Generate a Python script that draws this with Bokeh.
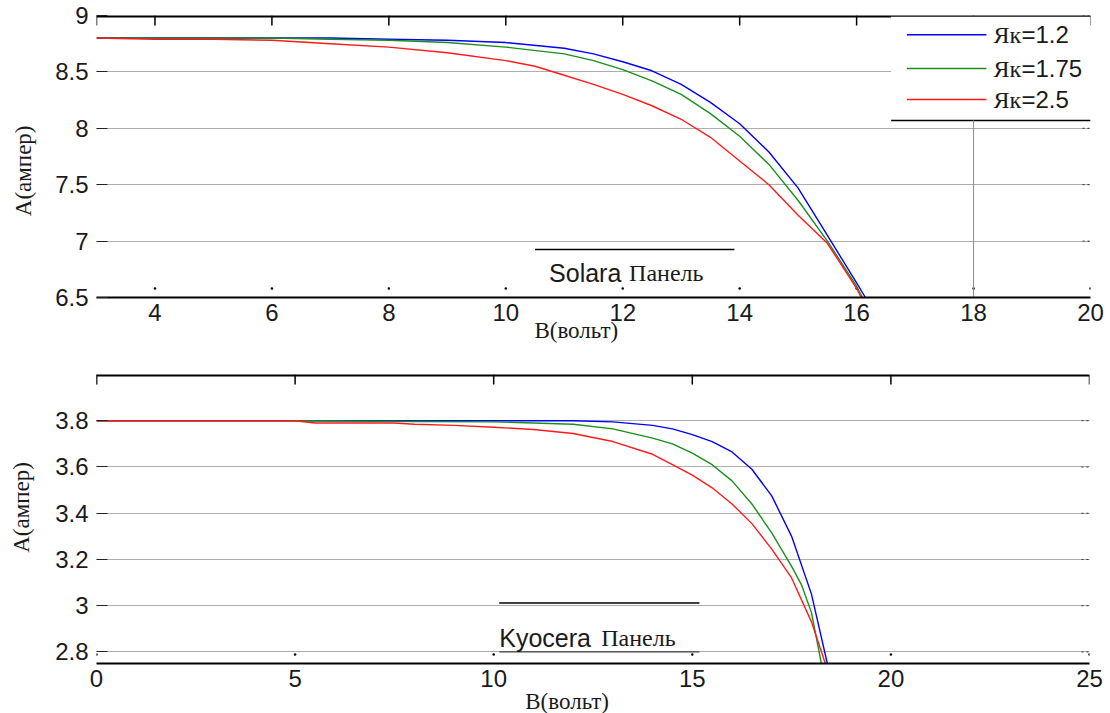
import math
from bokeh.plotting import figure
from bokeh.models import Range1d, FixedTicker, Label
from bokeh.layouts import column
from bokeh.embed import file_html
from bokeh.resources import INLINE

# ---- Solara panel: I-V curves for three series resistances ----
solara_v_12 = [3, 4, 5, 6, 7, 8, 9, 10, 11, 11.5, 12, 12.5, 13, 13.5, 14, 14.5, 15, 15.5, 16, 16.15]
solara_i_12 = [8.80, 8.80, 8.80, 8.80, 8.80, 8.79, 8.78, 8.76, 8.71, 8.66, 8.59, 8.51, 8.39, 8.23, 8.04, 7.79, 7.47, 7.05, 6.63, 6.50]
solara_v_175 = [3, 4, 5, 6, 7, 8, 9, 10, 11, 11.5, 12, 12.5, 13, 13.5, 14, 14.5, 15, 15.5, 16, 16.1]
solara_i_175 = [8.80, 8.80, 8.80, 8.80, 8.79, 8.78, 8.76, 8.72, 8.66, 8.60, 8.52, 8.42, 8.30, 8.13, 7.93, 7.68, 7.36, 7.00, 6.60, 6.50]
solara_v_25 = [3, 4, 5, 6, 7, 8, 9, 10, 10.5, 11, 11.5, 12, 12.5, 13, 13.5, 14, 14.5, 15, 15.5, 16, 16.08]
solara_i_25 = [8.80, 8.79, 8.79, 8.78, 8.75, 8.72, 8.67, 8.60, 8.55, 8.47, 8.39, 8.30, 8.20, 8.08, 7.92, 7.71, 7.50, 7.23, 6.98, 6.58, 6.50]

# ---- Kyocera panel ----
kyocera_v_12 = [0, 5, 10, 12, 13, 14, 14.5, 15, 15.5, 16, 16.5, 17, 17.5, 18, 18.4]
kyocera_i_12 = [3.80, 3.80, 3.80, 3.80, 3.795, 3.78, 3.765, 3.74, 3.71, 3.665, 3.59, 3.475, 3.30, 3.05, 2.75]
kyocera_v_175 = [0, 5, 8, 10, 11, 12, 13, 14, 14.5, 15, 15.5, 16, 16.5, 17, 17.5, 17.75, 18, 18.25]
kyocera_i_175 = [3.80, 3.80, 3.797, 3.795, 3.79, 3.785, 3.765, 3.725, 3.70, 3.66, 3.61, 3.54, 3.44, 3.315, 3.17, 3.09, 2.97, 2.75]
kyocera_v_25 = [0, 5, 5.5, 7.5, 8, 9, 10, 11, 12, 13, 14, 14.5, 15, 15.5, 16, 16.5, 17, 17.5, 18, 18.35]
kyocera_i_25 = [3.80, 3.80, 3.79, 3.79, 3.785, 3.78, 3.772, 3.762, 3.745, 3.71, 3.655, 3.61, 3.565, 3.51, 3.44, 3.355, 3.245, 3.12, 2.93, 2.75]

series_names = ["Як=1.2", "Як=1.75", "Як=2.5"]
series_colors = ["#0000ff", "#1a8f1a", "#ff1a1a"]

solara_xticks = [4, 6, 8, 10, 12, 14, 16, 18, 20]
solara_yticks = [6.5, 7, 7.5, 8, 8.5, 9]
solara_ylabels = ["6.5", "7", "7.5", "8", "8.5", "9"]
kyocera_xticks = [0, 5, 10, 15, 20, 25]
kyocera_yticks = [2.8, 3, 3.2, 3.4, 3.6, 3.8]
kyocera_ylabels = ["2.8", "3", "3.2", "3.4", "3.6", "3.8"]

SANS = "Liberation Sans"
SERIF = "Liberation Serif"
NB = "\u00a0"


def make_panel(xr, yr, xticks, yticks, ylabels, fw, fh, bl, br, bt, bb,
               xlabel, ylabel, xl_standoff, yl_standoff):
    p = figure(frame_width=fw, frame_height=fh, x_range=Range1d(*xr), y_range=Range1d(*yr),
               output_backend="svg", toolbar_location=None,
               min_border_left=bl, min_border_right=br, min_border_top=bt, min_border_bottom=bb,
               outline_line_color=None, background_fill_color="white", border_fill_color="white")
    xa = p.below[0]
    ya = p.left[0]
    xa.ticker = FixedTicker(ticks=xticks)
    ya.ticker = FixedTicker(ticks=yticks)
    ya.major_label_overrides = {t: s for t, s in zip(yticks, ylabels)}
    for ax in (xa, ya):
        ax.major_label_text_font = SANS
        ax.major_label_text_font_size = "24px"
        ax.major_label_text_color = "#1a1a1a"
        ax.major_tick_out = 0
        ax.minor_tick_line_color = None
        ax.axis_label_text_font = SERIF
        ax.axis_label_text_font_size = "23px"
        ax.axis_label_text_font_style = "normal"
        ax.axis_label_text_color = "#1a1a1a"
    xa.axis_label = xlabel
    ya.axis_label = ylabel
    xa.axis_label_standoff = xl_standoff
    ya.axis_label_standoff = yl_standoff
    xa.axis_line_width = 2
    xa.axis_line_color = "black"
    xa.major_tick_in = 0
    xa.major_tick_line_color = None
    xa.major_label_standoff = 6
    ya.axis_line_color = None
    ya.major_tick_in = 11
    ya.major_tick_line_color = "#222222"
    ya.major_label_standoff = 8

    p.xgrid.grid_line_color = None
    p.ygrid.ticker = FixedTicker(ticks=yticks)
    p.ygrid.grid_line_color = "#5a5a5a"
    p.ygrid.grid_line_dash = "1 1"
    p.ygrid.grid_line_width = 1

    # pixel sizes expressed in data units of this frame
    px_y = (yr[1] - yr[0]) / fh

    # top rule with hanging tick marks
    top_ticks = [xr[0]] + list(xticks)
    p.segment(x0=[xr[0]], y0=[yr[1]], x1=[xr[1]], y1=[yr[1]], line_color="black", line_width=4)
    p.rect(x=top_ticks, y=[yr[1] - 5 * px_y] * len(top_ticks), width=1.5, height=10,
           width_units="screen", height_units="screen", fill_color="black", line_color=None)
    # small marks along the right edge and dots above the bottom axis
    p.scatter(x=[xr[1]] * len(yticks), y=yticks, marker="dash", size=16,
              line_color="#333333", line_width=1, line_dash="2 3")
    p.scatter(x=list(xticks), y=[yr[0] + 9 * px_y] * len(xticks), marker="circle", size=2.5,
              fill_color="black", line_color=None)
    return p


def add_text(p, x, y, text, font, size, **kw):
    p.add_layout(Label(x=x, y=y, text=text, text_font=font, text_font_size=size,
                       text_color="#1a1a1a", **kw))


# ---------------- Top panel ----------------
top = make_panel((3, 20), (6.5, 9), solara_xticks, solara_yticks, solara_ylabels,
                 994, 282, 96, 20, 15, 48,
                 "B(вольт)" + NB * 6, "A(ампер)" + NB * 5, -6, 16)

# legend box (white background with bottom rule)
top.quad(left=16.59, right=20, bottom=8.07, top=8.99, fill_color="white", line_color=None)
top.segment(x0=[16.59], y0=[8.07], x1=[20], y1=[8.07], line_color="black", line_width=1.5)
top.segment(x0=[18], y0=[8.07], x1=[18], y1=[6.5], line_color="#8c8c8c", line_width=1)

for v, i, c in zip([solara_v_12, solara_v_175, solara_v_25],
                   [solara_i_12, solara_i_175, solara_i_25], series_colors):
    top.line(v, i, line_color=c, line_width=1.4)

legend_y = [8.83, 8.53, 8.255]
for name, c, ly in zip(series_names, series_colors, legend_y):
    top.segment(x0=[16.86], y0=[ly], x1=[18.22], y1=[ly], line_color=c, line_width=1.4)
    add_text(top, 18.34, ly, name[:2], SERIF, "24px", text_baseline="middle")
    add_text(top, 18.34, ly, name[2:], SANS, "24px", text_baseline="middle", x_offset=28)

# panel caption
top.segment(x0=[10.5], y0=[6.925], x1=[13.91], y1=[6.925], line_color="black", line_width=1.5)
add_text(top, 10.74, 6.713, "Solara", SANS, "25px", text_baseline="middle")
add_text(top, 10.74, 6.713, "Панель", SERIF, "24px", text_baseline="middle", x_offset=80)

# ---------------- Bottom panel ----------------
bot = make_panel((0, 25), (2.75, 4.0), kyocera_xticks, kyocera_yticks, kyocera_ylabels,
                 993, 289, 94, 23, 29, 50,
                 "B(вольт)" + NB * 9, NB * 4 + "A(ампер)", -1, 18)

for v, i, c in zip([kyocera_v_12, kyocera_v_175, kyocera_v_25],
                   [kyocera_i_12, kyocera_i_175, kyocera_i_25], series_colors):
    bot.line(v, i, line_color=c, line_width=1.4)

bot.segment(x0=[10.14], y0=[3.012], x1=[15.18], y1=[3.012], line_color="black", line_width=1.5)
bot.segment(x0=[10.14], y0=[2.8], x1=[15.18], y1=[2.8], line_color="#444444", line_width=1.2)
add_text(bot, 10.14, 2.86, "Kyocera", SANS, "25px", text_baseline="middle")
add_text(bot, 10.14, 2.86, "Панель", SERIF, "24px", text_baseline="middle", x_offset=102)

layout = column(top, bot, spacing=0)
open("out.html", "w").write(file_html(layout, INLINE))
